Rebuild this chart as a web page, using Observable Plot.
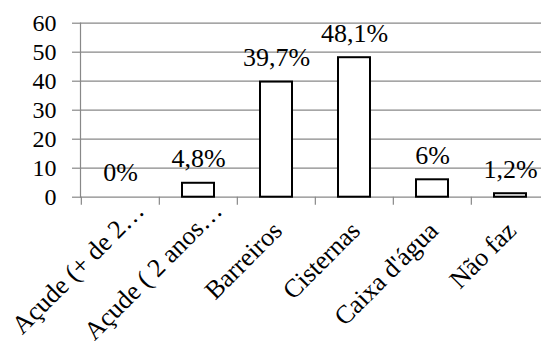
<!DOCTYPE html>
<html><head><meta charset="utf-8">
<script src="https://cdn.jsdelivr.net/npm/d3@7"></script>
<script src="https://cdn.jsdelivr.net/npm/@observablehq/plot@0.6"></script>
<style>html,body{margin:0;padding:0;background:#fff} svg{display:block}</style>
</head><body><div id="chart"></div>
<script>
const categories = ["Açude (+ de 2…", "Açude ( 2 anos…", "Barreiros", "Cisternas", "Caixa d'água", "Não faz"];
const values = [0, 4.8, 39.7, 48.1, 6, 1.2];
const valueLabels = ["0%", "4,8%", "39,7%", "48,1%", "6%", "1,2%"];
const yTicks = [0, 10, 20, 30, 40, 50, 60];

const data = categories.map((c, i) => ({category: c, value: values[i], label: valueLabels[i]}));
const truncatedCats = categories.filter(c => c.endsWith("…"));
const fullCats = categories.filter(c => !c.endsWith("…"));

const xRange = [80, 550];
const step = (xRange[1] - xRange[0]) / categories.length;
const grey = "#888888";
const serif = "Liberation Serif";

const catLabelStyle = {frameAnchor: "bottom", rotate: -45, textAnchor: "end", lineAnchor: "top", fontSize: 26, fontFamily: serif, fill: "#000"};

const chart = Plot.plot({
  width: 541,
  height: 341,
  marginLeft: 80,
  marginRight: 0,
  marginTop: 22.7,
  marginBottom: 144.3,
  style: {fontFamily: serif, background: "#fff", color: "#000"},
  x: {type: "band", domain: categories, range: xRange, paddingInner: 0.59, paddingOuter: 0.295, align: 0.5},
  y: {domain: [0, 60]},
  marks: [
    Plot.ruleY(yTicks, {stroke: grey, strokeWidth: 1.2}),
    Plot.frame({anchor: "left", stroke: grey, strokeWidth: 1.2}),
    Plot.axisY({ticks: yTicks, tickSize: 8, tickPadding: 16, fontSize: 24, fontFamily: serif, stroke: grey, fill: "#000", strokeWidth: 1.2, label: null}),
    Plot.axisX({tickSize: 8, dx: -step / 2, tickFormat: () => "", stroke: grey, strokeWidth: 1.2, label: null}),
    Plot.barY(data, {x: "category", y: "value", fill: "#fff", stroke: "#000", strokeWidth: 2}),
    Plot.text(data, {x: "category", y: "value", text: "label", lineAnchor: "bottom", dy: -16, fontSize: 26, fontFamily: serif, fill: "#000"}),
    Plot.text(fullCats, {x: d => d, dx: -6, dy: 22, ...catLabelStyle}),
    Plot.text(truncatedCats, {x: d => d, dx: 12, dy: 2, ...catLabelStyle})
  ]
});
document.getElementById("chart").appendChild(chart);
</script>
</body></html>
